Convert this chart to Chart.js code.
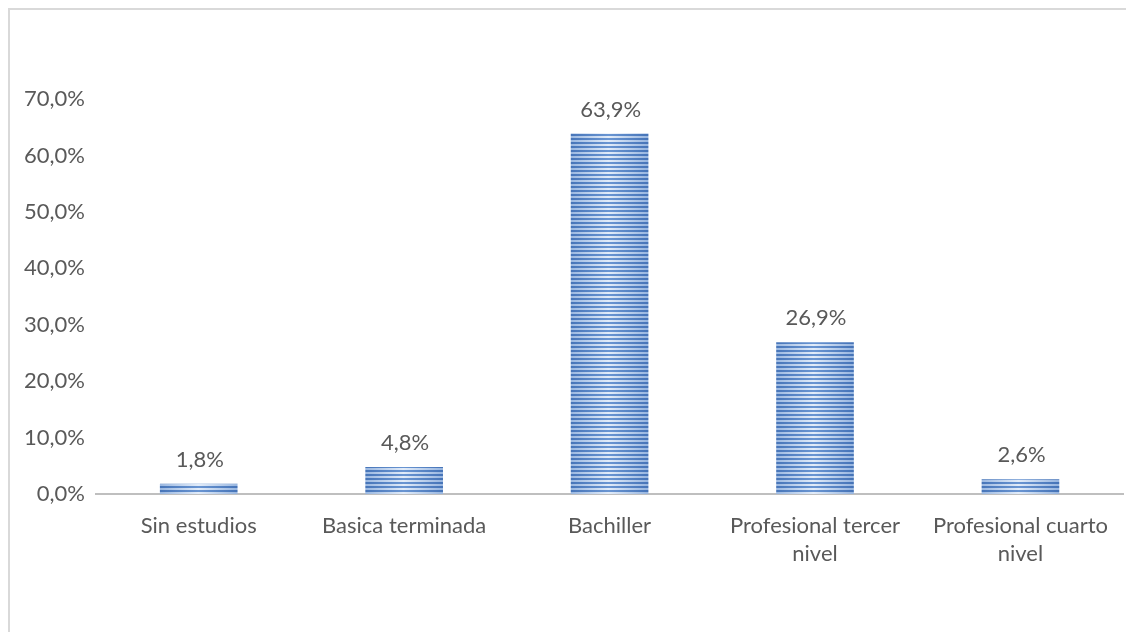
<!DOCTYPE html>
<html>
<head>
<meta charset="utf-8">
<script src="https://cdn.jsdelivr.net/npm/chart.js@4.4.1/dist/chart.umd.min.js"></script>
<style>
    html, body { margin: 0; padding: 0; background: #fff; }
    #wrap { position: relative; width: 1126px; height: 632px; overflow: hidden; }
    #frame {
        position: absolute; left: 8px; top: 8px; width: 1200px; height: 700px;
        border-top: 2px solid #d9d9d9; border-left: 2px solid #d9d9d9;
    }
    #chart { position: absolute; left: 0; top: 0; }
</style>
</head>
<body>
<div id="wrap">
    <div id="frame"></div>
    <canvas id="chart" width="1126" height="632"></canvas>
</div>
<script>
var categories = [
    'Sin estudios',
    'Basica terminada',
    'Bachiller',
    ['Profesional tercer', 'nivel'],
    ['Profesional cuarto', 'nivel']
];
var percentages = [1.8, 4.8, 63.9, 26.9, 2.6];
var yTicks = [0, 10, 20, 30, 40, 50, 60, 70];

var textColor = '#595959';
var fontFamily = 'Lato, "Open Sans", sans-serif';

function formatPct(v, decimals) {
    return v.toFixed(decimals).replace('.', ',') + '%';
}

// striped fill: thin horizontal lines, lighter toward the middle of each bar
var stripeCache = null;
function stripedFill(context) {
    var chart = context.chart;
    var area = chart.chartArea;
    if (!area) return '#5b87c7';
    var slot = (area.right - area.left) / categories.length;
    var key = Math.round(slot * 100);
    if (stripeCache && stripeCache.key === key) return stripeCache.pattern;

    var barW = slot * 0.378;
    var w = Math.round(slot);
    var c = document.createElement('canvas');
    c.width = w;
    c.height = 4;
    var g = c.getContext('2d');
    var x0 = (w - barW) / 2;

    var dark = g.createLinearGradient(x0, 0, x0 + barW, 0);
    dark.addColorStop(0, '#4674b8');
    dark.addColorStop(0.5, '#6995d2');
    dark.addColorStop(1, '#4674b8');
    var light = g.createLinearGradient(x0, 0, x0 + barW, 0);
    light.addColorStop(0, '#98b6e0');
    light.addColorStop(0.5, '#e2ecf9');
    light.addColorStop(1, '#98b6e0');

    g.fillStyle = dark;
    g.fillRect(0, 0, w, 2);
    g.fillStyle = light;
    g.fillRect(0, 2, w, 2);

    var pattern = g.createPattern(c, 'repeat');
    pattern.setTransform(new DOMMatrix().translate(area.left, area.bottom));
    stripeCache = { key: key, pattern: pattern };
    return pattern;
}

// value labels above each bar
var barValueLabels = {
    id: 'barValueLabels',
    afterDatasetsDraw: function(chart) {
        var ctx = chart.ctx;
        var meta = chart.getDatasetMeta(0);
        ctx.save();
        ctx.fillStyle = textColor;
        ctx.font = '22px ' + fontFamily;
        ctx.textAlign = 'center';
        ctx.textBaseline = 'bottom';
        meta.data.forEach(function(bar, i) {
            ctx.fillText(formatPct(percentages[i], 1), bar.x + 1, bar.y - 13);
        });
        ctx.restore();
    }
};

var ctx = document.getElementById('chart').getContext('2d');
var chart = new Chart(ctx, {
    type: 'bar',
    data: {
        labels: categories,
        datasets: [{
            data: percentages,
            backgroundColor: stripedFill,
            borderWidth: 0,
            categoryPercentage: 1,
            barPercentage: 0.378
        }]
    },
    options: {
        responsive: false,
        animation: false,
        layout: { padding: { top: 99, right: 0, left: 0, bottom: 0 } },
        plugins: {
            legend: { display: false },
            tooltip: { enabled: false }
        },
        scales: {
            x: {
                grid: { display: false, drawTicks: false },
                border: { display: true, color: '#bfbfbf', width: 2 },
                ticks: {
                    color: textColor,
                    font: { family: fontFamily, size: 22, lineHeight: 1.27 },
                    padding: 18,
                    maxRotation: 0,
                    autoSkip: false
                },
                afterFit: function(scale) { scale.height = 138; }
            },
            y: {
                min: 0,
                max: 70,
                afterBuildTicks: function(scale) {
                    scale.ticks = yTicks.map(function(v) { return { value: v }; });
                },
                grid: { display: false, drawTicks: false },
                border: { display: false },
                ticks: {
                    color: textColor,
                    font: { family: fontFamily, size: 22 },
                    padding: 11,
                    callback: function(v) { return formatPct(v, 1); }
                },
                afterFit: function(scale) { scale.width = 96; }
            }
        }
    },
    plugins: [barValueLabels]
});
</script>
</body>
</html>
